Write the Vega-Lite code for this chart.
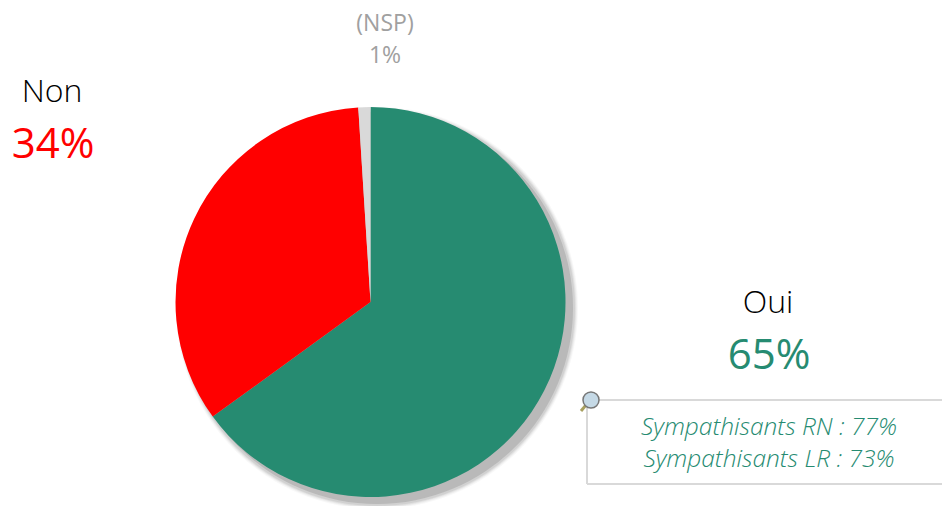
{"$schema":"https://vega.github.io/schema/vega-lite/v6.json","width":942,"height":506,"autosize":{"type":"fit","contains":"padding"},"padding":0,"background":"white","view":{"stroke":null},
"datasets":{"parts":[{"reponse":"Oui","part":0.65},{"reponse":"Non","part":0.34},{"reponse":"(NSP)","part":0.01}],"notes":[{"ligne":"Sympathisants RN : 77%"},{"ligne":"Sympathisants LR : 73%"}],"one":[{"item":"decor"}]},
"layer":[
{"data":{"name":"one"},"mark":{"type":"arc","x":377,"y":308,"radius":201,"theta":0,"theta2":6.2832,"fill":"#808080","opacity":0.06},"encoding":{}},
{"data":{"name":"one"},"mark":{"type":"arc","x":377,"y":308,"radius":200,"theta":0,"theta2":6.2832,"fill":"#808080","opacity":0.08},"encoding":{}},
{"data":{"name":"one"},"mark":{"type":"arc","x":377,"y":308,"radius":199,"theta":0,"theta2":6.2832,"fill":"#808080","opacity":0.12},"encoding":{}},
{"data":{"name":"one"},"mark":{"type":"arc","x":377,"y":308,"radius":198,"theta":0,"theta2":6.2832,"fill":"#808080","opacity":0.16},"encoding":{}},
{"data":{"name":"one"},"mark":{"type":"arc","x":377,"y":308,"radius":196,"theta":0,"theta2":6.2832,"fill":"#808080","opacity":0.3},"encoding":{}},
{"data":{"name":"parts"},"mark":{"type":"arc","x":370.5,"y":302,"radius":195},"encoding":{"theta":{"field":"part","type":"quantitative","stack":true,"scale":{"domain":[0,1]}},"order":{"field":"part","type":"quantitative","sort":"descending"},"color":{"field":"reponse","type":"nominal","legend":null,"scale":{"domain":["Oui","Non","(NSP)"],"range":["#268B71","#FF0000","#D9D9D9"]}}}},
{"data":{"name":"parts"},"transform":[{"filter":"datum.reponse==='Non'"}],"mark":{"type":"text","x":52,"y":92,"font":"Open Sans","fontWeight":300,"fontSize":32,"color":"#000000","align":"center","baseline":"middle"},"encoding":{"text":{"field":"reponse"}}},
{"data":{"name":"parts"},"transform":[{"filter":"datum.reponse==='Non'"}],"mark":{"type":"text","x":53,"y":145,"font":"Open Sans","fontWeight":400,"fontSize":42,"color":"#FF0000","align":"center","baseline":"middle"},"encoding":{"text":{"field":"part","format":".0%"}}},
{"data":{"name":"parts"},"transform":[{"filter":"datum.reponse==='Oui'"}],"mark":{"type":"text","x":768,"y":303,"font":"Open Sans","fontWeight":300,"fontSize":32,"color":"#000000","align":"center","baseline":"middle"},"encoding":{"text":{"field":"reponse"}}},
{"data":{"name":"parts"},"transform":[{"filter":"datum.reponse==='Oui'"}],"mark":{"type":"text","x":769,"y":356,"font":"Open Sans","fontWeight":400,"fontSize":42,"color":"#268B71","align":"center","baseline":"middle"},"encoding":{"text":{"field":"part","format":".0%"}}},
{"data":{"name":"parts"},"transform":[{"filter":"datum.reponse==='(NSP)'"}],"mark":{"type":"text","x":385,"y":24,"font":"Open Sans","fontWeight":400,"fontSize":23,"color":"#A0A0A0","align":"center","baseline":"middle"},"encoding":{"text":{"field":"reponse"}}},
{"data":{"name":"parts"},"transform":[{"filter":"datum.reponse==='(NSP)'"}],"mark":{"type":"text","x":385,"y":56,"font":"Open Sans","fontWeight":400,"fontSize":23,"color":"#A0A0A0","align":"center","baseline":"middle"},"encoding":{"text":{"field":"part","format":".0%"}}},
{"data":{"name":"one"},"mark":{"type":"rule","stroke":"#D9D9D9","strokeWidth":2},"encoding":{"x":{"value":587},"x2":{"value":942},"y":{"value":400}}},
{"data":{"name":"one"},"mark":{"type":"rule","stroke":"#D9D9D9","strokeWidth":2},"encoding":{"x":{"value":587},"x2":{"value":942},"y":{"value":484}}},
{"data":{"name":"one"},"mark":{"type":"rule","stroke":"#D9D9D9","strokeWidth":2},"encoding":{"x":{"value":587},"y":{"value":400},"y2":{"value":484}}},
{"data":{"name":"one"},"mark":{"type":"rule","stroke":"#A8A060","strokeWidth":3},"encoding":{"x":{"value":586},"x2":{"value":581},"y":{"value":405},"y2":{"value":411}}},
{"data":{"name":"one"},"mark":{"type":"arc","x":591,"y":400,"radius":8,"theta":0,"theta2":6.2832,"fill":"#C5D9E6","stroke":"#777777","strokeWidth":1.5},"encoding":{}},
{"data":{"name":"notes"},"transform":[{"filter":"datum.ligne==='Sympathisants RN : 77%'"}],"mark":{"type":"text","x":769,"y":428,"font":"Open Sans","fontStyle":"italic","fontWeight":300,"fontSize":24.5,"color":"#268B71","align":"center","baseline":"middle"},"encoding":{"text":{"field":"ligne"}}},
{"data":{"name":"notes"},"transform":[{"filter":"datum.ligne==='Sympathisants LR : 73%'"}],"mark":{"type":"text","x":769,"y":460,"font":"Open Sans","fontStyle":"italic","fontWeight":300,"fontSize":24.5,"color":"#268B71","align":"center","baseline":"middle"},"encoding":{"text":{"field":"ligne"}}}
]}
